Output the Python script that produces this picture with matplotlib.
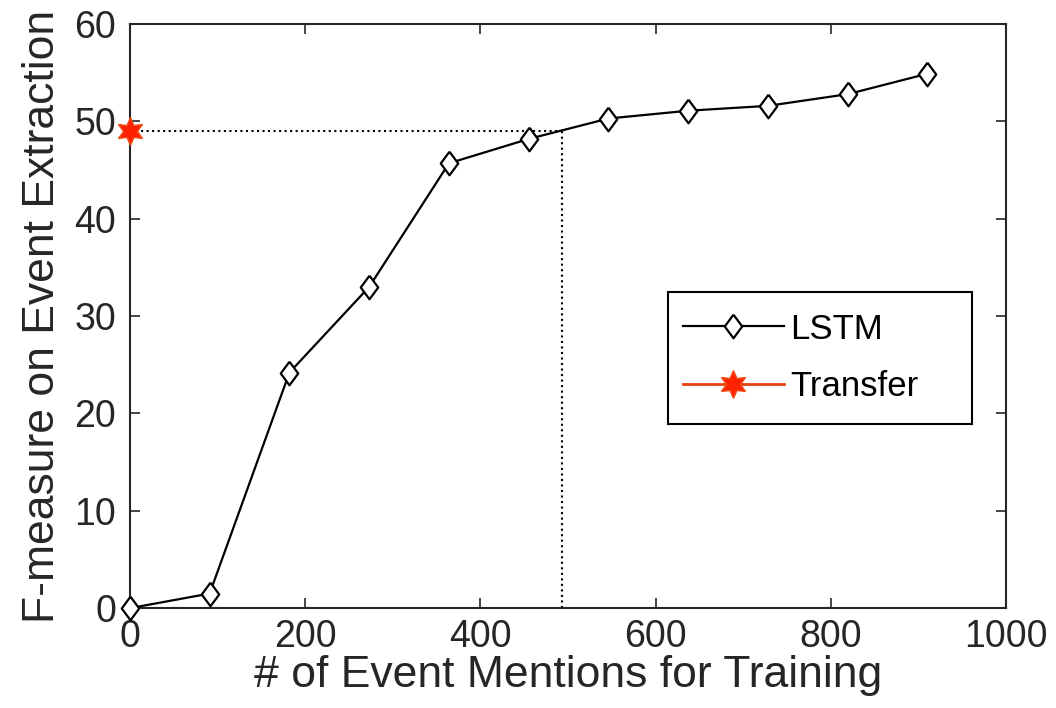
import matplotlib
matplotlib.use("Agg")
import matplotlib.pyplot as plt
from matplotlib.patches import Rectangle

plt.rcParams['font.family'] = ['Liberation Sans', 'DejaVu Sans']

lstm_x = [0, 91, 182, 273, 364, 455, 546, 637, 728, 819, 910]
lstm_y = [0, 1.5, 24.2, 33.0, 45.7, 48.2, 50.3, 51.1, 51.6, 52.8, 54.9]
transfer_x = [0]
transfer_y = [49]
cross_x = 493
cross_y = 49

txt = '#262626'
diamond = [(0, 1), (0.74, 0), (0, -1), (-0.74, 0), (0, 1)]

fig = plt.figure(figsize=(10.56, 7.08), dpi=100)
ax = fig.add_axes([0.123, 0.141, 0.830, 0.825])

ax.plot([0, cross_x], [cross_y, cross_y], ls=':', color='black', lw=1.5)
ax.plot([cross_x, cross_x], [0, cross_y], ls=':', color='black', lw=1.5)

ax.plot(lstm_x, lstm_y, color='black', lw=1.6, marker=diamond, ms=17,
        mfc='white', mec='black', mew=1.6, label='LSTM', clip_on=False, zorder=5)
ax.plot(transfer_x, transfer_y, color='#e8400c', lw=2, marker=(6, 1, 0), ms=20,
        mfc='#ff2200', mec='#f05018', mew=1, label='Transfer', clip_on=False, zorder=6)

ax.set_xlim(0, 1000)
ax.set_ylim(0, 60)
ax.set_xticks(range(0, 1001, 200))
ax.set_yticks(range(0, 61, 10))
ax.tick_params(direction='in', top=True, right=True, length=7, width=1.2,
               labelsize=27, labelcolor=txt, color=txt)
ax.tick_params(axis='x', pad=8)
ax.tick_params(axis='y', pad=10)
for s in ax.spines.values():
    s.set_linewidth(1.5)
    s.set_color(txt)

ax.set_xlabel('# of Event Mentions for Training', fontsize=32, color=txt, labelpad=0)
ax.set_ylabel('F-measure on Event Extraction', fontsize=32, color=txt, labelpad=8)

# legend box (MATLAB-style, wider on the right)
ax.add_patch(Rectangle((0.614, 0.315), 0.347, 0.226, transform=ax.transAxes,
                       facecolor='white', edgecolor='black', lw=1.5, zorder=7))
leg = ax.legend(loc='upper left', bbox_to_anchor=(0.631, 0.506), fontsize=25,
                frameon=False, handlelength=2.9,
                borderpad=0, labelspacing=0.7, handletextpad=0.2, borderaxespad=0)
leg.set_zorder(8)
for t in leg.get_texts():
    t.set_color('black')

fig.savefig('out.png', dpi=100, facecolor='white')
